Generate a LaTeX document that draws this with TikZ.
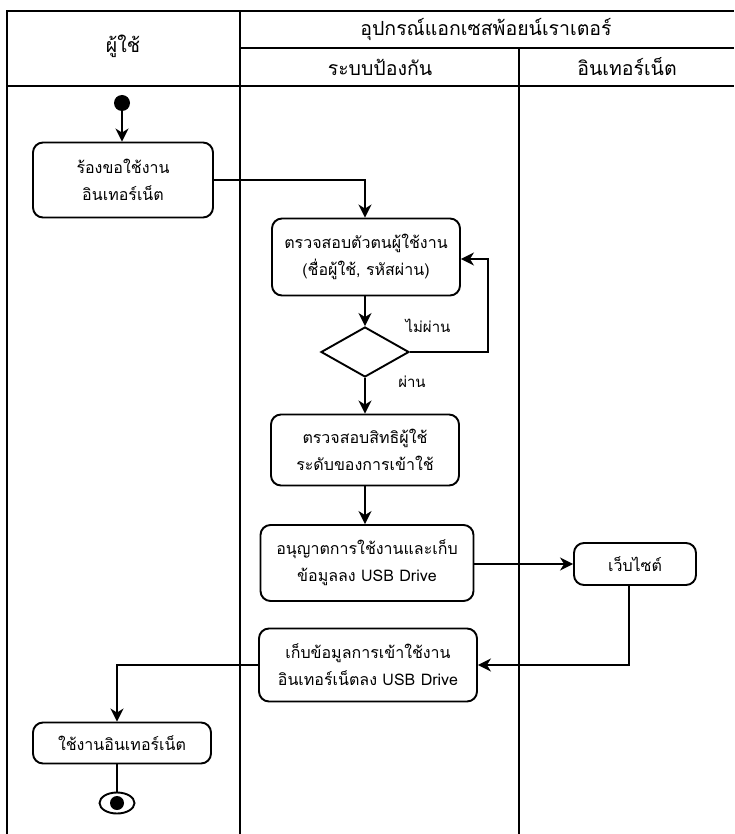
\documentclass[tikz,border=0pt]{standalone}
\usepackage{fontspec}
\setmainfont[Script=Thai]{Loma}
\usetikzlibrary{shapes.geometric,arrows.meta,calc}
\begin{document}
\begin{tikzpicture}[x=1pt,y=-1pt,
  lane/.style={line width=2pt},
  act/.style={draw,line width=1.9pt,rounded corners=10pt,align=center,font=\fontsize{16}{27}\selectfont,inner sep=0pt},
  flow/.style={line width=1.8pt,-{Stealth[length=13pt,width=13pt,inset=4pt]}},
  plain/.style={line width=1.8pt},
  hdr/.style={font=\fontsize{19.5}{22}\selectfont,inner sep=0pt},
  lbl/.style={font=\fontsize{15}{17}\selectfont,inner sep=0pt}]
\useasboundingbox (0,0) rectangle (734,834);
% swimlanes
\draw[lane] (7,834) -- (7,11) -- (734,11);
\draw[lane] (240,48) -- (734,48);
\draw[lane] (7,86) -- (734,86);
\draw[lane] (240,11) -- (240,834);
\draw[lane] (519,48) -- (519,834);
\node[hdr] (hUser) at (123,46) {ผู้ใช้};
\node[hdr] (hDev) at (486,29) {อุปกรณ์แอกเซสพ้อยน์เราเตอร์};
\node[hdr] (hSec) at (380,67) {ระบบป้องกัน};
\node[hdr] (hNet) at (627,67) {อินเทอร์เน็ต};
% nodes
\node[circle,fill,inner sep=0pt,minimum size=16pt] (start) at (122,103) {};
\node[act,minimum width=180pt,minimum height=75pt] (b1) at (123,180) {ร้องขอใช้งาน\\อินเทอร์เน็ต};
\node[act,minimum width=188pt,minimum height=77pt] (b2) at (366,257) {ตรวจสอบตัวตนผู้ใช้งาน\\(ชื่อผู้ใช้, รหัสผ่าน)};
\node[diamond,draw,line width=1.9pt,minimum width=88pt,minimum height=50pt,inner sep=0pt] (d) at (365,352) {};
\node[act,minimum width=188pt,minimum height=71pt] (b3) at (365,450) {ตรวจสอบสิทธิผู้ใช้\\ระดับของการเข้าใช้};
\node[act,minimum width=213pt,minimum height=76pt] (b4) at (367,563) {อนุญาตการใช้งานและเก็บ\\ข้อมูลลง USB Drive};
\node[act,minimum width=122pt,minimum height=42pt] (web) at (635,564) {เว็บไซต์};
\node[act,minimum width=218pt,minimum height=73pt] (b5) at (368,665) {เก็บข้อมูลการเข้าใช้งาน\\อินเทอร์เน็ตลง USB Drive};
\node[act,minimum width=178pt,minimum height=41pt] (b6) at (122,743) {ใช้งานอินเทอร์เน็ต};
\node[ellipse,draw,line width=1.9pt,minimum width=35pt,minimum height=21pt,inner sep=0pt] (end) at (117,803) {};
\node[circle,fill,inner sep=0pt,minimum size=14pt] (endc) at (117,803) {};
% labels
\node[lbl] (lfail) at (428,326) {ไม่ผ่าน};
\node[lbl] (lpass) at (412,382) {ผ่าน};
% connectors
\draw[flow] (start) -- (b1.north -| start);
\draw[flow] (b1.east) -| (b2.north -| d.north);
\draw[flow] (b2.south -| d.north) -- (d.north);
\coordinate (loop) at (488,259);
\draw[flow] (d.east) -| (loop) -- (b2.east |- loop);
\draw[flow] (d.south) -- (b3.north -| d.south);
\draw[flow] (b3.south -| d.south) -- (b4.north -| d.south);
\draw[flow] (b4.east |- web.west) -- (web.west);
\coordinate (wdrop) at (629,585);
\draw[flow] (wdrop) |- (b5.east);
\draw[flow] (b5.west) -| (b6.north -| end.north);
\draw[plain] (b6.south -| end.north) -- (end.north);
\end{tikzpicture}
\end{document}
